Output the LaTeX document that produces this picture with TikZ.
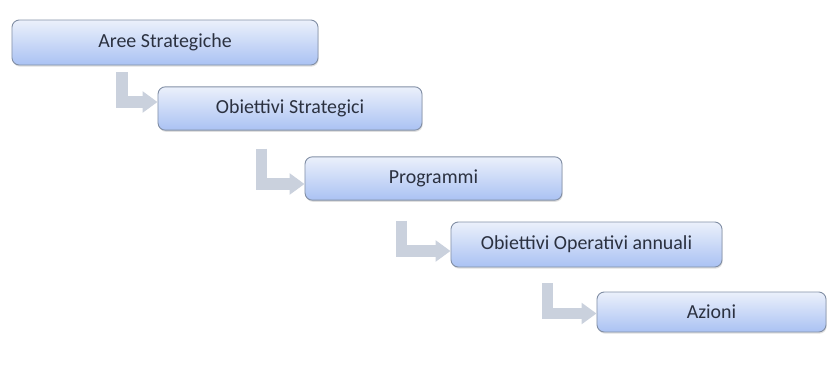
\documentclass[tikz,border=0pt]{standalone}
\usepackage{fontspec}
\setmainfont{Carlito}
\usetikzlibrary{positioning}
\usetikzlibrary{calc}
\usetikzlibrary{shadows}
\usetikzlibrary{arrows.meta}

\definecolor{boxline}{HTML}{8390A6}
\definecolor{boxtop}{HTML}{EBF0FB}
\definecolor{boxbottom}{HTML}{AAC2F3}
\definecolor{boxtext}{HTML}{2B3140}
\definecolor{arrowgray}{HTML}{CAD1DD}

\begin{document}
\begin{tikzpicture}[x=0.03cm,y=-0.03cm,
  livello/.style={draw=boxline, line width=0.8pt, rounded corners=0.22cm,
    top color=boxtop, bottom color=boxbottom, text=boxtext,
    minimum height=1.3cm, font=\fontsize{17}{20}\selectfont,
    drop shadow={opacity=0.25, shadow xshift=0.6pt, shadow yshift=-1.4pt}},
  freccia/.style={draw=arrowgray, line width=0.35cm, line join=miter,
    -{Triangle[length=0.45cm,width=0.62cm]}}]
\useasboundingbox (0,0) rectangle (828,383);

\node(aree)[livello, minimum width=9.18cm, minimum height=1.35cm] at (165,42.5) {Aree Strategiche};
\node(obstr)[livello, minimum width=7.92cm] at (290,108.5) {Obiettivi Strategici};
\node(progr)[livello, minimum width=7.71cm] at (433.5,178.5) {Programmi};
\node(oboper)[livello, minimum width=8.13cm, minimum height=1.35cm] at (586.5,244.5) {Obiettivi Operativi annuali};
\node(azioni)[livello, minimum width=6.87cm, minimum height=1.2cm] at (711.5,312) {Azioni};

\draw[freccia] ($(aree.south -| obstr.west)+(-35.5,7)$) |- ($(obstr.west)+(0,-6.5)$);
\draw[freccia] ($(obstr.south -| progr.west)+(-43,18)$) |- ($(progr.west)+(0,5.5)$);
\draw[freccia] ($(progr.south -| oboper.west)+(-49,20)$) |- ($(oboper.west)+(0,6.5)$);
\draw[freccia] ($(oboper.south -| azioni.west)+(-49,16)$) |- ($(azioni.west)+(0,1.5)$);
\end{tikzpicture}
\end{document}
